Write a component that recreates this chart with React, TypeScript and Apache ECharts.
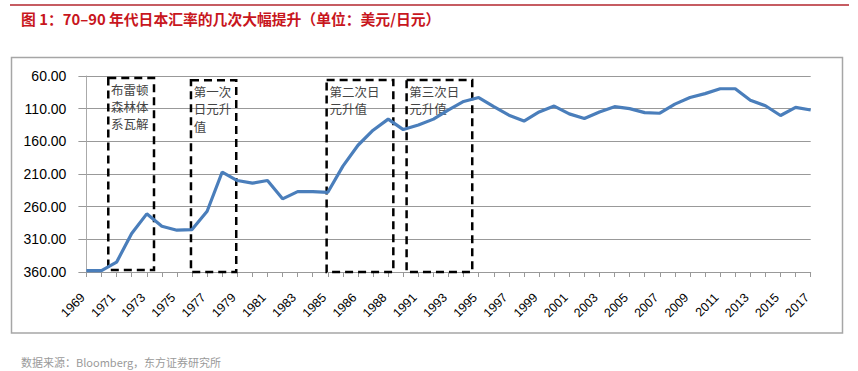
import React, { useEffect, useRef } from "react";
import * as echarts from "echarts";

const TITLE = "图 1：70–90 年代日本汇率的几次大幅提升（单位：美元/日元）";
const SOURCE = "数据来源：Bloomberg，东方证券研究所";

const YEARS = [
  "1969", "1970", "1971", "1972", "1973", "1974", "1975", "1976", "1977", "1978",
  "1979", "1980", "1981", "1982", "1983", "1984", "1985", "1985", "1986", "1987",
  "1988", "1990", "1991", "1992", "1993", "1994", "1995", "1996", "1997", "1998",
  "1999", "2000", "2001", "2002", "2003", "2004", "2005", "2006", "2007", "2008",
  "2009", "2010", "2011", "2012", "2013", "2014", "2015", "2016", "2017",
];

const RATES = [
  358, 358, 345, 301, 271, 290, 296, 295, 267, 207,
  220, 224, 220, 248, 237, 237, 238, 198, 166, 143,
  126, 142, 135, 126, 112, 99, 93, 107, 120, 129,
  115, 106, 118, 125, 115, 107, 110, 116, 117, 103,
  93, 87, 79.5, 79.5, 97, 105.5, 120.5, 108, 112,
];

const Y_MIN = 60;
const Y_MAX = 360;
const Y_STEP = 50;

// Annotation boxes: [fromIndex, toIndex, topValue, bottomValue, label]
const BOX_FROM = [1.45, 6.93, 15.92, 21.22];
const BOX_TO = [4.48, 9.93, 20.34, 25.57];
const BOX_TOP = [63, 66.5, 66, 66];
const BOX_BOTTOM = [357, 360, 360, 360];
const BOX_LABELS = ["布雷顿\n森林体\n系瓦解", "第一次\n日元升\n值", "第二次日\n元升值", "第三次日\n元升值"];

export default function App() {
  const ref = useRef<HTMLDivElement>(null);

  useEffect(() => {
    if (!ref.current) return;
    const chart = echarts.init(ref.current, null, { renderer: "svg" });

    const areaData = BOX_FROM.map((from, i) => [
      {
        xAxis: from,
        yAxis: BOX_TOP[i] - Y_MIN,
        label: {
          show: true,
          formatter: BOX_LABELS[i],
        },
      },
      { xAxis: BOX_TO[i], yAxis: BOX_BOTTOM[i] - Y_MIN },
    ]);

    chart.setOption({
      animation: false,
      backgroundColor: "#fff",
      textStyle: { fontFamily: "'Liberation Sans', 'Noto Sans CJK SC', sans-serif" },
      title: [
        {
          text: TITLE,
          left: 21,
          top: 11,
          padding: 0,
          textStyle: {
            color: "#c8161d",
            fontSize: 14.8,
            fontWeight: "bold",
            fontFamily: "'Noto Sans CJK SC', 'Liberation Sans', sans-serif",
          },
        },
        {
          text: SOURCE,
          left: 21,
          top: 356,
          padding: 0,
          textStyle: {
            color: "#9a9a9a",
            fontSize: 11,
            fontWeight: "normal",
            fontFamily: "'Noto Sans CJK SC', 'Liberation Sans', sans-serif",
          },
        },
      ],
      graphic: [
        {
          type: "line",
          z: -1,
          shape: { x1: 10, y1: 5, x2: 849, y2: 5 },
          style: { stroke: "#b3262e", lineWidth: 1.5 },
        },
        {
          type: "rect",
          z: -1,
          shape: { x: 11.5, y: 57.5, width: 831, height: 275.5 },
          style: { fill: "none", stroke: "#a6a6a6", lineWidth: 1.5 },
        },
      ],
      grid: { left: 86.4, right: 47.3, top: 76, bottom: 99, containLabel: false },
      xAxis: [
        {
          type: "category",
          data: YEARS,
          boundaryGap: false,
          axisLine: { onZero: false, lineStyle: { color: "#999", width: 1 } },
          axisTick: { show: true, interval: 0, length: 5, lineStyle: { color: "#999" } },
          axisLabel: {
            interval: 1,
            rotate: 45,
            fontSize: 12.5,
            color: "#000",
            margin: 20,
            padding: [0, 5, 0, 0],
          },
          splitLine: { show: false },
        },
        {
          type: "value",
          min: 0,
          max: YEARS.length - 1,
          show: false,
        },
      ],
      yAxis: {
        type: "value",
        inverse: true,
        min: 0,
        max: Y_MAX - Y_MIN,
        interval: Y_STEP,
        axisLine: { show: true, lineStyle: { color: "#aaa", width: 1 } },
        axisTick: { show: true, length: 8, lineStyle: { color: "#999" } },
        axisLabel: {
          fontSize: 14,
          color: "#000",
          margin: 20,
          formatter: (v: number) => (v + Y_MIN).toFixed(2),
        },
        splitLine: { show: true, lineStyle: { color: "#999", width: 1 } },
      },
      series: [
        {
          type: "line",
          data: RATES.map((v) => v - Y_MIN),
          showSymbol: false,
          symbol: "none",
          lineStyle: { color: "#4a7ebb", width: 3.2 },
          z: 3,
        },
        {
          type: "line",
          xAxisIndex: 1,
          yAxisIndex: 0,
          data: [],
          symbol: "none",
          silent: true,
          z: 4,
          markArea: {
            silent: true,
            itemStyle: {
              color: "rgba(0,0,0,0)",
              borderColor: "#000",
              borderWidth: 2.5,
              borderType: [8, 5],
            },
            label: {
              show: true,
              position: "insideTopLeft",
              distance: 4,
              color: "#444",
              fontSize: 12.5,
              lineHeight: 17.3,
              fontFamily: "'Noto Sans CJK SC', sans-serif",
            },
            data: areaData,
          },
        },
      ],
    });

    return () => chart.dispose();
  }, []);

  return (
    <div
      ref={ref}
      style={{ position: "absolute", left: 0, top: 0, width: 858, height: 371 }}
    />
  );
}
